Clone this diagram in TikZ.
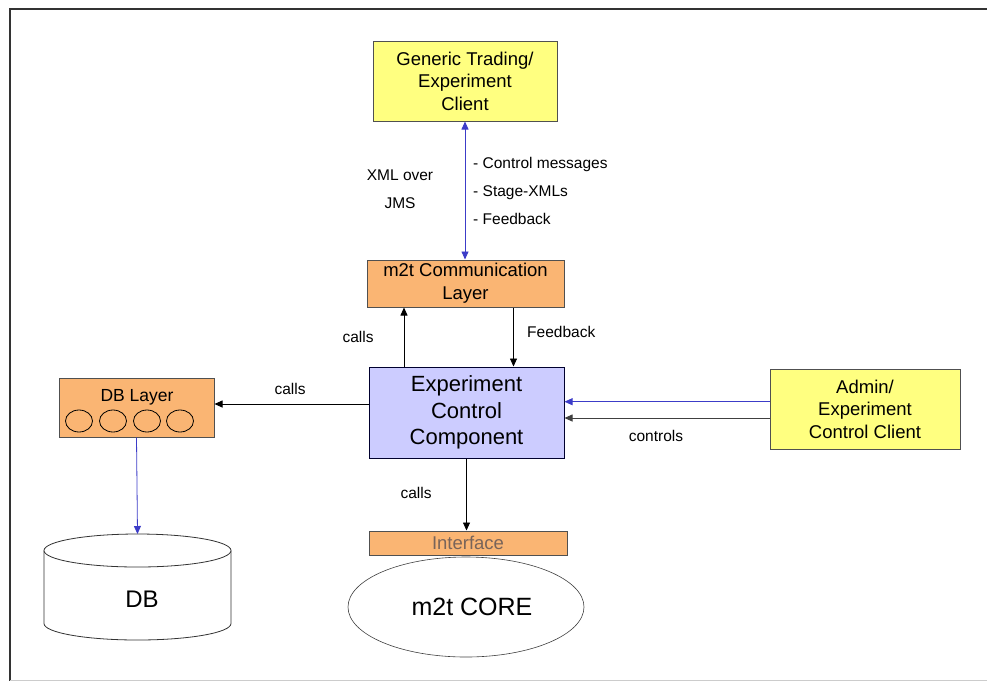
\documentclass[tikz,border=0pt]{standalone}
\usepackage{fontspec}
\setmainfont{Liberation Sans}
\usetikzlibrary{arrows.meta,shapes.geometric}
\definecolor{boxyellow}{RGB}{255,255,128}
\definecolor{boxorange}{RGB}{250,181,115}
\definecolor{boxlav}{RGB}{204,204,255}
\definecolor{linkblue}{RGB}{60,60,200}
\definecolor{ifacetext}{RGB}{120,100,90}
\definecolor{edgegray}{RGB}{80,80,80}
\tikzset{
  box/.style={draw=edgegray,line width=1pt,inner sep=0pt,align=center},
  ybox/.style={box,fill=boxyellow,font=\fontsize{18.5}{22.5}\selectfont},
  obox/.style={box,fill=boxorange,font=\fontsize{18.5}{23}\selectfont},
  lbl/.style={inner sep=0pt,font=\fontsize{15.5}{28}\selectfont},
  arr/.style={draw=black,line width=0.8pt,-{Triangle[length=8pt,width=7pt]}},
  barr/.style={draw=linkblue,line width=0.8pt,-{Triangle[length=8pt,width=7pt]}},
}
\begin{document}
\begin{tikzpicture}[x=1pt,y=-1pt]
\useasboundingbox (0,0) rectangle (987,681);
% frame
\draw[line width=1.8pt,draw=black!80] (987,9) -- (10,9) -- (10,681);
\draw[line width=0.6pt,draw=black!20] (10,680) -- (987,680);

% nodes
\node[ybox,minimum width=184pt,minimum height=80pt] (gen) at (465,81) {Generic Trading/\\Experiment\\Client};
\node[obox,minimum width=197pt,minimum height=47pt] (comm) at (465.5,283.5) {m2t Communication\\Layer};
\node[box,fill=boxlav,draw=black!70!blue!60!black,minimum width=195pt,minimum height=91pt,font=\fontsize{22}{26.5}\selectfont] (ecc) at (466.5,412.5) {Experiment\\Control\\Component};
\node[ybox,minimum width=190pt,minimum height=80pt] (admin) at (865,409) {Admin/\\Experiment\\Control Client};
\node[box,fill=boxorange,minimum width=155pt,minimum height=59pt] (dbl) at (136.5,407.5) {};
\node[inner sep=0pt,font=\fontsize{17.5}{20}\selectfont] (dbltext) at (137,397) {DB Layer};
\foreach \i/\cx in {1/79,2/113,3/147,4/180}{
  \node[draw=black,line width=0.8pt,ellipse,minimum width=27pt,minimum height=22pt,inner sep=0pt] (dbc\i) at (\cx,421) {};
}
\node[obox,minimum width=198pt,minimum height=24pt,text=ifacetext] (iface) at (468,543) {Interface};
\node[draw=black!75,line width=0.6pt,ellipse,minimum width=236pt,minimum height=100pt,inner sep=0pt] (core) at (466,607) {};
\node[inner sep=0pt,font=\fontsize{25}{30}\selectfont] (coretext) at (472,607) {m2t CORE};

% DB cylinder
\fill[white] (44,550.5) -- (44,623.5) arc[start angle=180,end angle=360,x radius=93.5,y radius=-16.5] -- (231,550.5) -- cycle;
\draw[line width=0.8pt,draw=black!80] (44,550.5) -- (44,623.5) arc[start angle=180,end angle=360,x radius=93.5,y radius=-16.5] -- (231,550.5);
\draw[line width=0.8pt,draw=black!80,fill=white] (137.5,550.5) ellipse[x radius=93.5,y radius=16.5];
\node[inner sep=0pt,font=\fontsize{24}{28}\selectfont] (db) at (142,599) {DB};
\coordinate (dbtop) at (137.5,534);

% connectors
\draw[barr,{Triangle[length=8pt,width=7pt]}-{Triangle[length=8pt,width=7pt]}] (gen.south) -- (gen.south |- comm.north);
\draw[arr] ([xshift=-62.5pt]ecc.north) -- ([xshift=-62.5pt]ecc.north |- comm.south);
\draw[arr] ([xshift=48pt]comm.south) -- ([xshift=48pt]comm.south |- ecc.north);
\draw[arr] ([yshift=8.5pt]ecc.west) -- ([yshift=8.5pt]ecc.west -| dbl.east);
\draw[barr] ([yshift=7.3pt]admin.west) -- ([yshift=7.3pt]admin.west -| ecc.east);
\draw[arr,draw=black!75] ([yshift=-9pt]admin.west) -- ([yshift=-9pt]admin.west -| ecc.east);
\draw[arr] (ecc.south) -- (ecc.south |- iface.north);
\draw[barr] (dbl.south) -- (dbtop);

% labels
\node[lbl,align=center] (xml) at (400,189) {XML over\\JMS};
\node[lbl,align=left,anchor=west] (msgs) at (473,191) {- Control messages\\- Stage-XMLs\\- Feedback};
\node[lbl] (calls1) at (358,337) {calls};
\node[lbl,anchor=west] (fb) at (527,332) {Feedback};
\node[lbl] (calls2) at (290,389) {calls};
\node[lbl] (ctrl) at (656,436) {controls};
\node[lbl] (calls3) at (416,493) {calls};
\end{tikzpicture}
\end{document}
